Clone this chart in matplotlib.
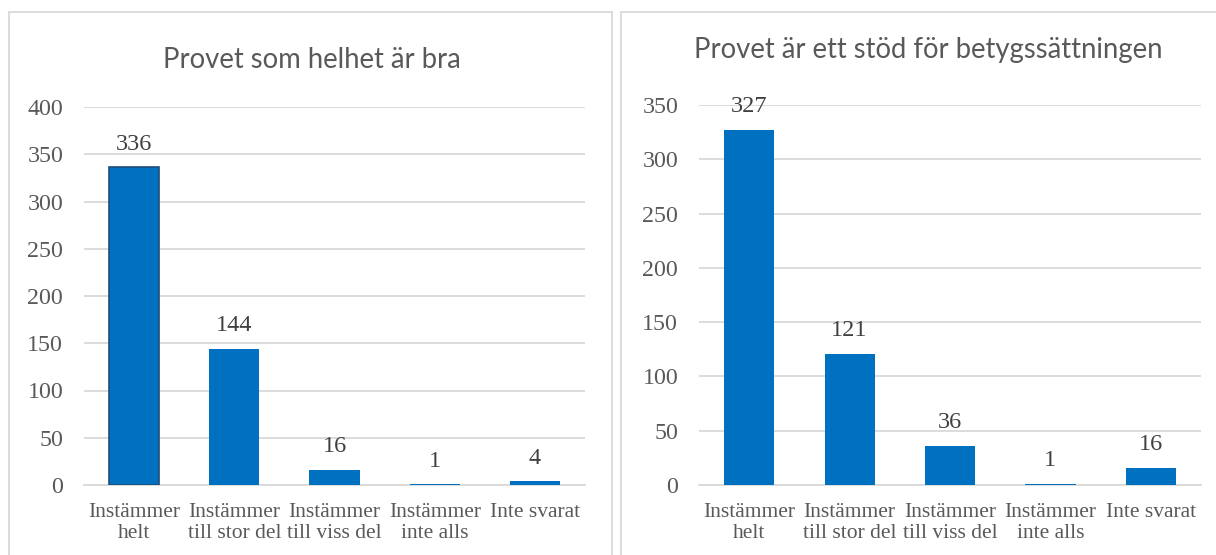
import matplotlib
matplotlib.use("Agg")
import matplotlib.pyplot as plt
from matplotlib.patches import Rectangle

categories = ["Instämmer\nhelt", "Instämmer\ntill stor del", "Instämmer\ntill viss del",
              "Instämmer\ninte alls", "Inte svarat"]
values_left = [336, 144, 16, 1, 4]
values_right = [327, 121, 36, 1, 16]
title_left = "Provet som helhet är bra"
title_right = "Provet är ett stöd för betygssättningen"
yticks_left = list(range(0, 401, 50))
yticks_right = list(range(0, 351, 50))

W, H = 1216, 555
fig = plt.figure(figsize=(W / 100, H / 100), dpi=100)

bar_color = "#0070C0"
grid_color = "#D9D9D9"
text_color = "#595959"
serif = ["Liberation Serif", "DejaVu Serif"]
sans = ["Lato", "DejaVu Sans"]

# panel borders
for x0, x1 in [(9, 612), (621, 1230)]:
    fig.patches.append(Rectangle((x0 / W, -0.1), (x1 - x0) / W, (H - 12) / H + 0.1,
                                 transform=fig.transFigure, fill=False,
                                 edgecolor=grid_color, linewidth=1.3))


def panel(rect, values, yticks, title, title_xy, first_edge=False):
    ax = fig.add_axes(rect)
    x = list(range(len(categories)))
    bars = ax.bar(x, values, width=0.5, color=bar_color, zorder=3)
    if first_edge:
        bars[0].set_edgecolor("#1F4E79")
        bars[0].set_linewidth(1.2)
    ax.set_xlim(-0.5, len(categories) - 0.5)
    ax.set_ylim(0, yticks[-1])
    ax.set_yticks(yticks)
    ax.set_yticklabels([str(t) for t in yticks], fontfamily=serif, fontsize=17.3, color=text_color)
    ax.set_xticks(x)
    ax.set_xticklabels(categories, fontfamily=serif, fontsize=15.5, color=text_color,
                       linespacing=1.13)
    ax.tick_params(axis="both", length=0)
    ax.tick_params(axis="y", pad=15)
    ax.tick_params(axis="x", pad=13)
    ax.yaxis.grid(True, color=grid_color, linewidth=1.3, zorder=0)
    ax.set_axisbelow(True)
    for s in ["top", "right", "left"]:
        ax.spines[s].set_visible(False)
    ax.spines["bottom"].set_color(grid_color)
    ax.spines["bottom"].set_linewidth(1.3)
    for xi, v in zip(x, values):
        ax.annotate(str(v), (xi, v), xytext=(0, 9), textcoords="offset points",
                    ha="center", va="bottom", fontfamily=serif, fontsize=17.5,
                    color="#404040", zorder=4)
    fig.text(title_xy[0] / W, 1 - title_xy[1] / H, title, ha="center", va="center",
             fontfamily=sans, fontsize=19.8, color=text_color)
    return ax


panel([84 / W, 70 / H, 501 / W, 378 / H], values_left, yticks_left, title_left, (312, 60),
      first_edge=True)
panel([699 / W, 70 / H, 502 / W, 380 / H], values_right, yticks_right, title_right, (928, 50))

fig.savefig("out.png", dpi=100)
